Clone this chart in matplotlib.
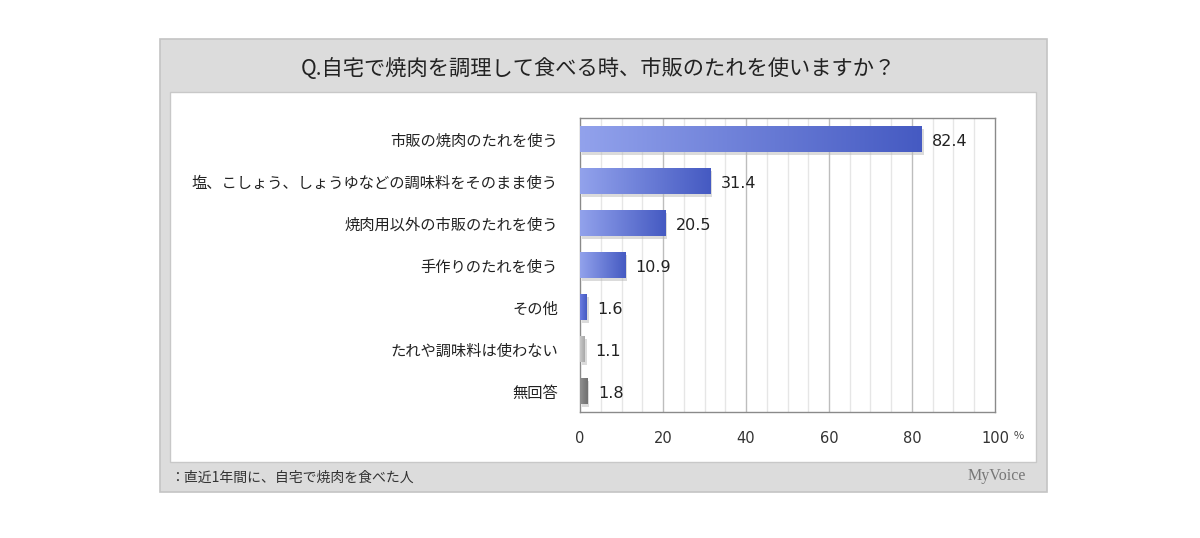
import numpy as np
import matplotlib
matplotlib.use("Agg")
import matplotlib.pyplot as plt
from matplotlib.patches import Rectangle
import matplotlib.transforms as mtransforms

plt.rcParams['font.family'] = ['Noto Sans CJK JP', 'DejaVu Sans']

categories = ["市販の焼肉のたれを使う",
              "塩、こしょう、しょうゆなどの調味料をそのまま使う",
              "焼肉用以外の市販のたれを使う",
              "手作りのたれを使う",
              "その他",
              "たれや調味料は使わない",
              "無回答"]
values = [82.4, 31.4, 20.5, 10.9, 1.6, 1.1, 1.8]
value_labels = ["82.4", "31.4", "20.5", "10.9", "1.6", "1.1", "1.8"]
xticks = [0, 20, 40, 60, 80, 100]
xtick_labels = ["0", "20", "40", "60", "80", "100"]
title = "Q.自宅で焼肉を調理して食べる時、市販のたれを使いますか？"
footnote = "：直近1年間に、自宅で焼肉を食べた人"

W, H = 1200, 538
fig = plt.figure(figsize=(W / 100, H / 100), dpi=100)
fig.patch.set_facecolor("white")

def px_rect(x0, y0, x1, y1, **kw):
    r = Rectangle((x0 / W, 1 - y1 / H), (x1 - x0) / W, (y1 - y0) / H,
                  transform=fig.transFigure, zorder=-5, **kw)
    fig.patches.append(r)

# outer gray panel
px_rect(160, 39, 1047, 492, facecolor="#dcdcdc", edgecolor="#c4c4c4", lw=1.2)
# inner white panel
px_rect(170, 92, 1036, 462, facecolor="white", edgecolor="#c8c8c8", lw=1.0)

fig.text(598 / W, 1 - 69 / H, title, ha="center", va="center", fontsize=15.3, color="#222222")
fig.text(170 / W, 1 - 478 / H, footnote, ha="left", va="center", fontsize=10, color="#333333")
fig.text(1026 / W, 1 - 476 / H, "MyVoice", ha="right", va="center", fontsize=11.5,
         color="#777777", family=["Liberation Serif", "DejaVu Serif"])

ax = fig.add_axes([580 / W, 1 - 412 / H, (995 - 580) / W, (412 - 118) / H])
ax.set_zorder(5)
ax.set_facecolor("white")
ax.set_xlim(0, 100)
n = len(categories)
ypos = np.arange(n)
ax.set_ylim(n - 0.5, -0.5)

# grid
for x in range(5, 100, 5):
    ax.axvline(x, color="#bdbdbd" if x % 20 == 0 else "#e6e6e6", lw=1.0, zorder=0)

for s in ax.spines.values():
    s.set_color("#8a8a8a")
    s.set_linewidth(1.0)

bar_h = 0.62
gradients = []
for i in range(n):
    if i < 5:
        c0 = np.array([0x92, 0xa2, 0xec]) / 255
        c1 = np.array([0x45, 0x5a, 0xc2]) / 255
        if i == 4:
            c0 = np.array([0x6a, 0x7c, 0xe0]) / 255
    elif i == 5:
        c0 = np.array([0xc8, 0xc8, 0xc8]) / 255
        c1 = np.array([0xa8, 0xa8, 0xa8]) / 255
    else:
        c0 = np.array([0x90, 0x90, 0x90]) / 255
        c1 = np.array([0x70, 0x70, 0x70]) / 255
    gradients.append((c0, c1))

bars = ax.barh(ypos, values, height=bar_h, color="none", edgecolor="none", zorder=3)
shadow_tr = ax.transData + mtransforms.ScaledTranslation(2 / 100, -3 / 100, fig.dpi_scale_trans)
for b, (c0, c1) in zip(bars, gradients):
    bb = b.get_bbox()
    t = np.linspace(0, 1, 256)[None, :, None]
    img = c0[None, None, :] * (1 - t) + c1[None, None, :] * t
    ax.add_patch(Rectangle((bb.x0, bb.y0), bb.width, bb.height, facecolor="#b8b8b8",
                           edgecolor="none", alpha=0.5, zorder=2, transform=shadow_tr))
    im = ax.imshow(img, extent=[bb.x0, bb.x1, bb.y1, bb.y0], aspect="auto", zorder=3,
                   interpolation="bilinear")
    im.set_clip_path(b)

for y, v, lab in zip(ypos, values, value_labels):
    ax.text(v + 2.5, y + 0.05, lab, ha="left", va="center", fontsize=11.5,
            color="#222222", family=["DejaVu Sans"], zorder=5)

ax.set_xticks(xticks)
ax.set_xticklabels(xtick_labels, fontsize=10.5, color="#333333", family=["DejaVu Sans"])
ax.tick_params(axis="x", length=0, pad=14)
ax.set_yticks(ypos)
ax.set_yticklabels(categories, fontsize=11, color="#222222")
ax.tick_params(axis="y", length=0, pad=16)
ax.set_ylim(n - 0.5, -0.5)
ax.set_xlim(0, 100)
fig.text(1014 / W, 1 - 436 / H, "%", ha="left", va="center", fontsize=8, color="#444444")

fig.savefig("out.png", dpi=100)
